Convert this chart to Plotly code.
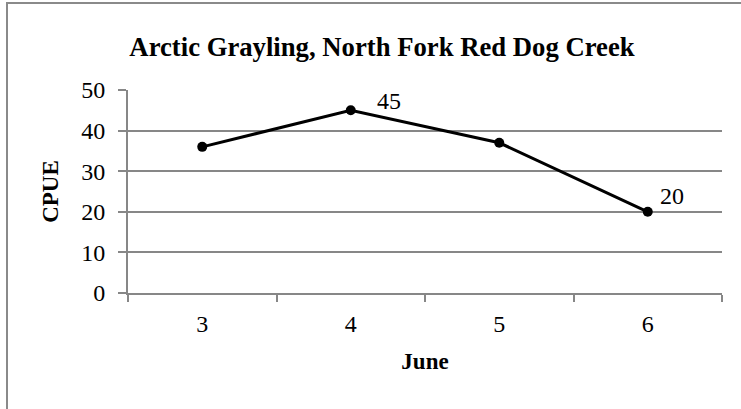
import plotly.graph_objects as go

# Catch per unit effort by sampling day (June)
days = ["3", "4", "5", "6"]
cpue = [36, 45, 37, 20]
# Only some points carry a value label
label_idx = [1, 3]
label_xshift = [24, 10]
label_yshift = [9, 16]

GRID = "#878787"
FONT = "Liberation Serif, Times New Roman, serif"

fig = go.Figure()
fig.add_trace(go.Scatter(
    x=list(range(len(days))), y=cpue, mode="lines+markers",
    line=dict(color="black", width=3),
    marker=dict(color="black", size=10),
    showlegend=False, hoverinfo="skip",
))

for i, dx, dy in zip(label_idx, label_xshift, label_yshift):
    fig.add_annotation(
        x=i, y=cpue[i], text=str(cpue[i]), showarrow=False,
        xanchor="left", yanchor="middle", xshift=dx, yshift=dy,
        font=dict(family=FONT, size=24, color="black"),
    )

# Outer chart frame
fig.add_shape(type="rect", xref="paper", yref="paper",
              x0=-0.2037, x1=1.3, y0=-1.0, y1=1.4286,
              line=dict(color="#8a8a8a", width=2), layer="below")

fig.update_layout(
    width=741, height=409,
    margin=dict(l=128, r=19, t=90, b=116),
    paper_bgcolor="white", plot_bgcolor="white",
    font=dict(family=FONT, color="black"),
    title=dict(text="<b>Arctic Grayling, North Fork Red Dog Creek</b>",
               x=0.4276, xref="paper", xanchor="center",
               y=1 - 47 / 409, yref="container", yanchor="middle",
               font=dict(family=FONT, size=26.7, color="black")),
    xaxis=dict(
        type="linear", range=[-0.5, len(days) - 0.5],
        tickmode="array", tickvals=list(range(len(days))), ticktext=days,
        ticks="", showline=True, linecolor=GRID, linewidth=2,
        showgrid=False, zeroline=False, tickfont=dict(family=FONT, size=24),
        ticklabelstandoff=8,
        title=dict(text="<b>June</b>", font=dict(family=FONT, size=23), standoff=17),
        minor=dict(tickmode="array", tickvals=[k - 0.5 for k in range(len(days) + 1)],
                   ticks="outside", ticklen=7, tickcolor=GRID, tickwidth=2, showgrid=False),
    ),
    yaxis=dict(
        range=[0, 50], dtick=10, showgrid=True, gridcolor=GRID, gridwidth=2,
        showline=True, linecolor=GRID, linewidth=2, zeroline=False,
        ticks="outside", ticklen=8, tickcolor=GRID, tickwidth=2,
        tickfont=dict(family=FONT, size=24), ticklabelstandoff=8,
        title=dict(text="<b>CPUE</b>", font=dict(family=FONT, size=23), standoff=16),
    ),
)

fig.write_html("out.html")
